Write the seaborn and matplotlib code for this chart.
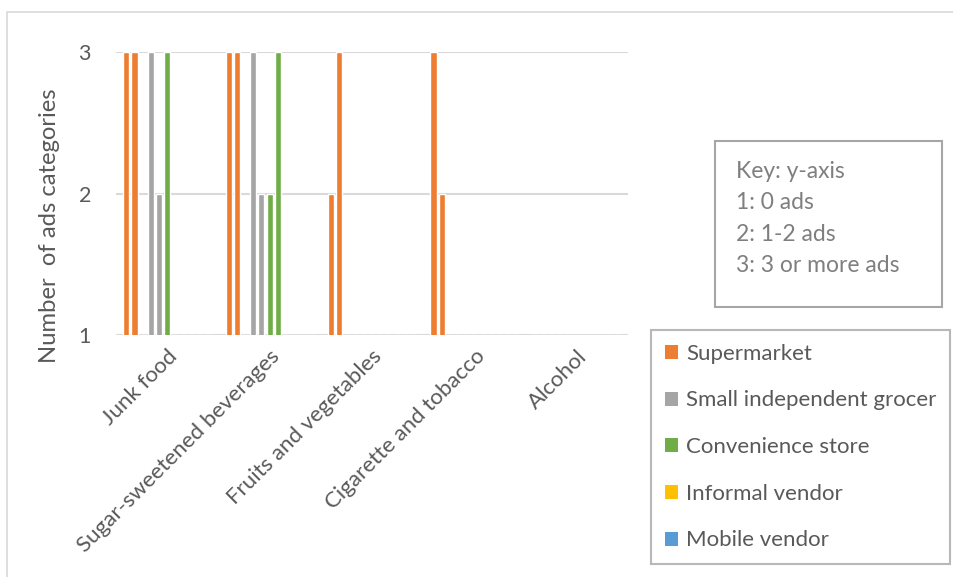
import numpy as np
import pandas as pd
import matplotlib
matplotlib.use("Agg")
import matplotlib.pyplot as plt
from matplotlib.patches import Rectangle, Patch
import seaborn as sns

categories = ["Junk food", "Sugar-sweetened beverages", "Fruits and vegetables",
              "Cigarette and tobacco", "Alcohol"]
store_types = ["Supermarket", "Small independent grocer", "Convenience store",
               "Informal vendor", "Mobile vendor"]
stores = ["Supermarket 1", "Supermarket 2", "Supermarket 3",
          "Small independent grocer 1", "Small independent grocer 2",
          "Convenience store 1", "Convenience store 2",
          "Informal vendor 1", "Informal vendor 2",
          "Mobile vendor 1", "Mobile vendor 2"]
store_type_of = ["Supermarket", "Supermarket", "Supermarket",
                 "Small independent grocer", "Small independent grocer",
                 "Convenience store", "Convenience store",
                 "Informal vendor", "Informal vendor",
                 "Mobile vendor", "Mobile vendor"]
# values per category, in the order of `stores` (1 = 0 ads, 2 = 1-2 ads, 3 = 3+ ads)
junk_food = [3, 3, 1, 3, 2, 3, 1, 1, 1, 1, 1]
ssb = [3, 3, 1, 3, 2, 2, 3, 1, 1, 1, 1]
fruits_veg = [2, 3, 1, 1, 1, 1, 1, 1, 1, 1, 1]
cig_tobacco = [3, 2, 1, 1, 1, 1, 1, 1, 1, 1, 1]
alcohol = [1, 1, 1, 1, 1, 1, 1, 1, 1, 1, 1]
yticks = [1, 2, 3]
key_lines = ["Key: y-axis", "1: 0 ads", "2: 1-2 ads", "3: 3 or more ads"]

type_colors = {"Supermarket": "#ED7D31", "Small independent grocer": "#A5A5A5",
               "Convenience store": "#70AD47", "Informal vendor": "#FFC000",
               "Mobile vendor": "#5B9BD5"}

rows = []
for cat, vals in zip(categories, [junk_food, ssb, fruits_veg, cig_tobacco, alcohol]):
    for s, v in zip(stores, vals):
        rows.append({"category": cat, "store": s, "value": v})
df = pd.DataFrame(rows)
palette = {s: type_colors[t] for s, t in zip(stores, store_type_of)}

sns.set_theme(style="white")
FONT = ["Lato", "DejaVu Sans"]
plt.rcParams["font.family"] = FONT
TXT = "#595959"

W, H = 954, 577
fig = plt.figure(figsize=(W / 100, H / 100), dpi=100)
ax = fig.add_axes([116 / W, 1 - 335 / H, 512 / W, (335 - 52) / H])

sns.barplot(data=df, x="category", y="value", hue="store", order=categories,
            hue_order=stores, palette=palette, width=0.88, gap=0.25,
            errorbar=None, legend=False, ax=ax, saturation=1)

ax.set_ylim(1, 3)
ax.set_xlim(-0.5, len(categories) - 0.5)
ax.set_yticks(yticks)
ax.set_yticklabels([str(t) for t in yticks])
ax.grid(axis="y", color="#d9d9d9", linewidth=1.5, zorder=0)
ax.grid(axis="x", visible=False)
ax.set_axisbelow(True)
for sp in ax.spines.values():
    sp.set_visible(False)
ax.tick_params(axis="y", length=0, pad=18, labelsize=15.5, labelcolor=TXT)
ax.tick_params(axis="x", length=0, pad=8, labelsize=16, labelcolor=TXT)
ax.set_xlabel("")
ax.set_ylabel("")
for lab in ax.get_xticklabels():
    lab.set_rotation(45)
    lab.set_ha("right")
    lab.set_va("top")
    lab.set_rotation_mode("anchor")

fig.text(50 / W, 1 - 226 / H, "Number  of ads categories", rotation=90,
         ha="center", va="center", fontsize=17.2, color=TXT)

# chart border
fig.patches.append(Rectangle((7 / W, -0.01), 1.0, 1 - 12 / H + 0.01,
                             transform=fig.transFigure, fill=False,
                             edgecolor="#d9d9d9", linewidth=1.2))

# key box
fig.patches.append(Rectangle((715 / W, 1 - 307 / H), (942 - 715) / W, (307 - 141) / H,
                             transform=fig.transFigure, fill=False,
                             edgecolor="#a6a6a6", linewidth=1.5))
for i, line in enumerate(key_lines):
    fig.text(736 / W, 1 - (171.5 + 31.5 * i) / H, line, ha="left", va="center",
             fontsize=16.5, color="#7f7f7f")

handles = [Patch(facecolor=type_colors[t], edgecolor="none", label=t) for t in store_types]
leg = fig.legend(handles=handles, loc="upper left", bbox_to_anchor=(651 / W, 1 - 330 / H),
                 frameon=True, fontsize=16, handlelength=0.6, handleheight=0.6,
                 handletextpad=0.35, labelspacing=1.2, borderpad=0.62,
                 borderaxespad=0, fancybox=False)
leg.get_frame().set_edgecolor("#a6a6a6")
leg.get_frame().set_linewidth(1.5)
for t in leg.get_texts():
    t.set_color(TXT)

fig.savefig("out.png", dpi=100)
